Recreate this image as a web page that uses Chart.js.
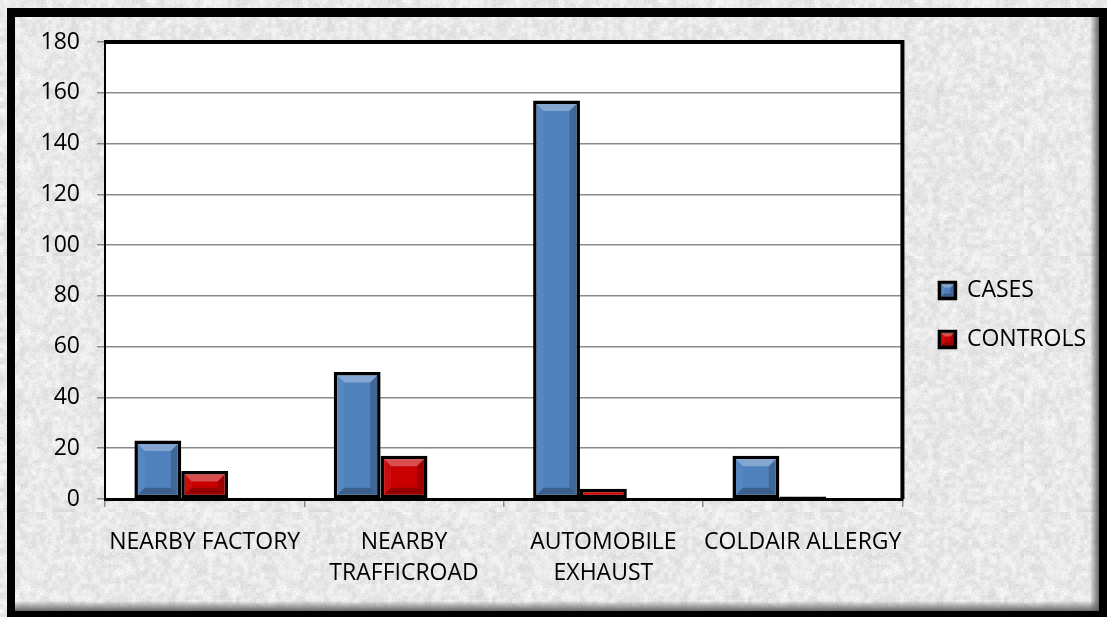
<!DOCTYPE html>
<html>
<head>
<meta charset="utf-8">
<script src="https://cdn.jsdelivr.net/npm/chart.js@4.4.1/dist/chart.umd.min.js"></script>
<style>
  html, body { margin: 0; padding: 0; background: #e8e8e8; }
  canvas { display: block; }
</style>
</head>
<body>
<canvas id="chart" width="1107" height="617"></canvas>
<script>
// Exposure categories (multi-line labels as arrays)
const categories = [['NEARBY FACTORY'], ['NEARBY', 'TRAFFICROAD'], ['AUTOMOBILE', 'EXHAUST'], ['COLDAIR ALLERGY']];
const seriesNames = ['CASES', 'CONTROLS'];
const casesValues = [23, 50, 157, 17];
const controlsValues = [11, 17, 4, 1];
// third, empty series slot kept by the workbook (not shown in legend)
const blankValues = [null, null, null, null];
const yMin = 0;
const yMax = 180;
const yStep = 20;

const FONT = "'Open Sans', 'Noto Sans', sans-serif";
const BLUE = '#4f81bd';
const RED = '#c80000';

// Speckled paper texture for the chart background (seeded so it is stable)
function makeTexture() {
  let seed = 20240611;
  const rnd = () => { seed = (Math.imul(seed, 1664525) + 1013904223) >>> 0; return seed / 4294967296; };
  const size = 256;
  const out = document.createElement('canvas');
  out.width = size; out.height = size;
  const g = out.getContext('2d');
  const coarse = document.createElement('canvas');
  coarse.width = 64; coarse.height = 64;
  const cg = coarse.getContext('2d');
  const img = cg.createImageData(64, 64);
  for (let i = 0; i < 64 * 64; i++) {
    const v = 233 + Math.round((rnd() - 0.5) * 26);
    img.data[i * 4] = v; img.data[i * 4 + 1] = v; img.data[i * 4 + 2] = v; img.data[i * 4 + 3] = 255;
  }
  cg.putImageData(img, 0, 0);
  g.imageSmoothingEnabled = true;
  g.drawImage(coarse, 0, 0, size, size);
  const fine = g.getImageData(0, 0, size, size);
  for (let i = 0; i < size * size; i++) {
    const n = (rnd() - 0.5) * 16;
    for (let k = 0; k < 3; k++) fine.data[i * 4 + k] = Math.max(0, Math.min(255, fine.data[i * 4 + k] + n));
  }
  g.putImageData(fine, 0, 0);
  return out;
}
const texture = makeTexture();

function facet(ctx, pts, fill) {
  ctx.beginPath();
  ctx.moveTo(pts[0][0], pts[0][1]);
  for (let i = 1; i < pts.length; i++) ctx.lineTo(pts[i][0], pts[i][1]);
  ctx.closePath();
  ctx.fillStyle = fill;
  ctx.fill();
}

function bevel(ctx, l, t, r, b, d) {
  facet(ctx, [[l, t], [r, t], [r - d, t + d], [l + d, t + d]], 'rgba(255,255,255,0.3)');
  facet(ctx, [[r, t], [r, b], [r - d, b - d], [r - d, t + d]], 'rgba(0,0,0,0.2)');
  facet(ctx, [[l, b], [r, b], [r - d, b - d], [l + d, b - d]], 'rgba(0,0,0,0.26)');
  facet(ctx, [[l, t], [l + d, t + d], [l + d, b - d], [l, b]], 'rgba(255,255,255,0.05)');
}

const LEGEND_SHIFT = 11;

const backgroundPlugin = {
  id: 'paperFrame',
  beforeDraw(chart) {
    const { ctx, width, height, chartArea: a } = chart;
    ctx.save();
    ctx.fillStyle = ctx.createPattern(texture, 'repeat');
    ctx.fillRect(0, 0, width, height);
    // inner shadow along the lower and right edges of the frame
    let gr = ctx.createLinearGradient(0, height - 16, 0, height - 6);
    gr.addColorStop(0, 'rgba(90,90,90,0)');
    gr.addColorStop(1, 'rgba(90,90,90,0.9)');
    ctx.fillStyle = gr;
    ctx.fillRect(7, height - 16, width - 14, 10);
    gr = ctx.createLinearGradient(width - 17, 0, width - 8, 0);
    gr.addColorStop(0, 'rgba(90,90,90,0)');
    gr.addColorStop(1, 'rgba(90,90,90,0.9)');
    ctx.fillStyle = gr;
    ctx.fillRect(width - 17, 8, 10, height - 14);
    // heavy black frame
    ctx.fillStyle = '#000';
    ctx.fillRect(7, 8, 8, height - 8);
    ctx.fillRect(7, 8, width - 7, 9);
    ctx.fillRect(width - 8, 8, 8, height - 8);
    ctx.fillRect(7, height - 6, width - 7, 6);
    // white plot area
    ctx.fillStyle = '#ffffff';
    ctx.fillRect(a.left, a.top, a.right - a.left, a.bottom - a.top);
    ctx.restore();
  },
  afterDraw(chart) {
    const { ctx, chartArea: a } = chart;
    ctx.save();
    ctx.strokeStyle = '#000';
    ctx.lineWidth = 4;
    ctx.beginPath();
    ctx.moveTo(a.left - 1, a.top);
    ctx.lineTo(a.right, a.top);
    ctx.lineTo(a.right, a.bottom);
    ctx.stroke();
    // bevel on the legend swatches
    const lg = chart.legend;
    if (lg && lg.legendItems) {
      const opts = lg.options.labels;
      const size = opts.font.size;
      lg.legendItems.forEach((item, i) => {
        const hb = lg.legendHitBoxes[i];
        if (!hb) return;
        const l = hb.left + 1, t = hb.top + (Math.max(size, opts.boxHeight) - opts.boxHeight) / 2 + 1;
        bevel(ctx, l, t, l + opts.boxWidth - 2, t + opts.boxHeight - 2, 4);
      });
    }
    ctx.restore();
  }
};

// Bevelled faces on each bar, read from the bar elements
const bevelPlugin = {
  id: 'bevelBars',
  afterDatasetsDraw(chart) {
    const ctx = chart.ctx;
    ctx.save();
    chart.data.datasets.forEach((ds, i) => {
      const meta = chart.getDatasetMeta(i);
      if (meta.hidden) return;
      meta.data.forEach(el => {
        const p = el.getProps(['x', 'y', 'base', 'width'], true);
        if (p.y == null || isNaN(p.y)) return;
        const bw = ds.borderWidth;
        const l = p.x - p.width / 2 + bw, r = p.x + p.width / 2 - bw;
        const t = Math.min(p.y, p.base) + bw, b = Math.max(p.y, p.base) - bw;
        const h = b - t;
        if (h <= 3) return;
        bevel(ctx, l, t, r, b, Math.min(7, h / 2.5));
      });
    });
    ctx.restore();
  },
  afterLayout(chart) {
    // leave a gap between the plot edge and the legend column
    const lg = chart.legend;
    if (lg) { lg.left += LEGEND_SHIFT; lg.right += LEGEND_SHIFT; }
  }
};

new Chart(document.getElementById('chart'), {
  type: 'bar',
  data: {
    labels: categories,
    datasets: [
      { label: seriesNames[0], data: casesValues, backgroundColor: BLUE, borderColor: '#000', borderWidth: 3.5, borderSkipped: false },
      { label: seriesNames[1], data: controlsValues, backgroundColor: RED, borderColor: '#000', borderWidth: 3.5, borderSkipped: false },
      { label: '', data: blankValues, backgroundColor: 'rgba(0,0,0,0)', borderWidth: 0 }
    ]
  },
  options: {
    responsive: false,
    animation: false,
    devicePixelRatio: 1,
    layout: { padding: { top: 42, right: 22, bottom: 29, left: 0 } },
    datasets: { bar: { categoryPercentage: 0.705, barPercentage: 1 } },
    plugins: {
      tooltip: { enabled: false },
      legend: {
        position: 'right',
        align: 'center',
        labels: {
          filter: item => item.text !== '',
          boxWidth: 16,
          boxHeight: 16,
          padding: 26,
          color: '#000',
          font: { family: FONT, size: 23 }
        }
      }
    },
    scales: {
      x: {
        afterFit: s => { s.height = 89; },
        border: { display: true, color: '#000', width: 3 },
        grid: { drawOnChartArea: false, drawTicks: true, tickLength: 8, color: '#8a8a8a', lineWidth: 1.5 },
        ticks: { color: '#000', font: { family: FONT, size: 23, lineHeight: 1.35 }, padding: 20, maxRotation: 0, autoSkip: false }
      },
      y: {
        min: yMin,
        max: yMax,
        afterFit: s => { s.width = 105; },
        border: { display: true, color: '#000', width: 2 },
        grid: { color: '#8a8a8a', lineWidth: 1.5, tickLength: 8, tickColor: '#8a8a8a' },
        ticks: { stepSize: yStep, color: '#000', font: { family: FONT, size: 23 }, padding: 17 }
      }
    }
  },
  plugins: [backgroundPlugin, bevelPlugin]
});
</script>
</body>
</html>
